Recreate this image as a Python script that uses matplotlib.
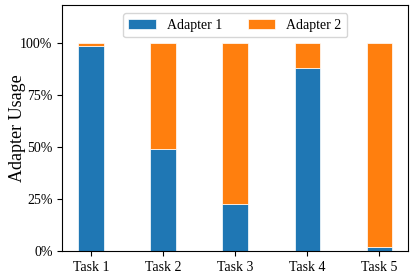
import matplotlib
matplotlib.use('Agg')
import matplotlib.pyplot as plt
import numpy as np

plt.rcParams['font.family'] = ['Liberation Serif', 'DejaVu Serif']

tasks = ['Task 1', 'Task 2', 'Task 3', 'Task 4', 'Task 5']
adapter1 = [0.987, 0.49, 0.226, 0.88, 0.018]
adapter2 = [1 - v for v in adapter1]

fig, ax = plt.subplots(figsize=(4.15, 2.76), dpi=100)
fig.subplots_adjust(left=0.15, right=0.983, top=0.982, bottom=0.09)

x = np.arange(len(tasks))
ax.bar(x, adapter1, width=0.35, color='#1f77b4', edgecolor='white',
       linewidth=0.5, label='Adapter 1')
ax.bar(x, adapter2, width=0.35, bottom=adapter1, color='#ff7f0e',
       edgecolor='white', linewidth=0.5, label='Adapter 2')

ax.set_xticks(x)
ax.set_xticklabels(tasks, fontsize=10)
ax.set_yticks([0, 0.25, 0.5, 0.75, 1.0])
ax.set_yticklabels(['0%', '25%', '50%', '75%', '100%'], fontsize=10)
ax.set_xlim(-0.4, 4.4)
ax.set_ylim(0, 1.183)
ax.set_ylabel('Adapter Usage', fontsize=13, labelpad=-4)
ax.legend(loc='upper center', ncol=2, fontsize=10, borderaxespad=0.6,
          columnspacing=1.8)

fig.savefig('out.png', dpi=100)
